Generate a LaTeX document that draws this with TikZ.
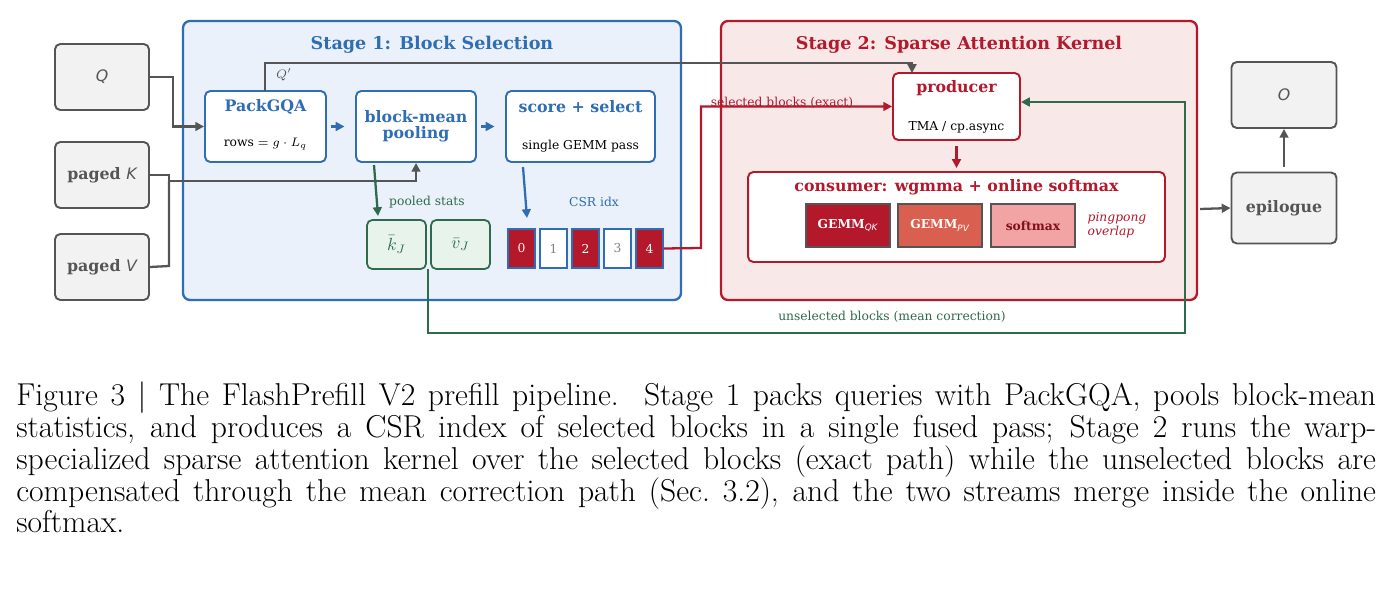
\documentclass[tikz,border=0pt]{standalone}
\usepackage{fontspec}
\usepackage{amsmath}
\usetikzlibrary{arrows.meta}
\newfontfamily\diag{DejaVu Serif}
\newfontfamily\dsans{DejaVu Sans}
\definecolor{sblue}{HTML}{2F6DB5}
\definecolor{sbluebg}{HTML}{EAF1FA}
\definecolor{sred}{HTML}{B3182B}
\definecolor{sredbg}{HTML}{F8E8E8}
\definecolor{sgreen}{HTML}{2E6B4A}
\definecolor{sgreenbg}{HTML}{E8F3EC}
\definecolor{sgray}{HTML}{555555}
\definecolor{sgraybg}{HTML}{F2F2F2}
\definecolor{pvred}{HTML}{D96050}
\definecolor{smred}{HTML}{F2A3A3}
\tikzset{
  iobox/.style={draw=sgray, fill=sgraybg, line width=1.1pt, rounded corners=3pt, text=sgray, font=\diag\bfseries\small},
  stagebox/.style={line width=1.3pt, rounded corners=4pt},
  bluebox/.style={draw=sblue, fill=white, line width=1.1pt, rounded corners=3pt},
  redbox/.style={draw=sred, fill=white, line width=1.1pt, rounded corners=3pt},
  statbox/.style={draw=sgreen, fill=sgreenbg, line width=1pt, rounded corners=3pt, text=sgreen, minimum width=1.18cm, minimum height=0.98cm},
  cell/.style={draw=sblue, line width=0.8pt, minimum width=0.54cm, minimum height=0.78cm, font=\diag\scriptsize},
  gemm/.style={draw=sgray, line width=0.8pt, minimum width=1.68cm, minimum height=0.86cm, font=\diag\bfseries\scriptsize},
  arr/.style={-{Triangle[length=5pt,width=5pt]}, line width=1.3pt},
  lbl/.style={font=\diag\scriptsize},
}
\begin{document}
\begin{tikzpicture}[x=0.02cm, y=-0.02cm]
\useasboundingbox (0,0) rectangle (1392,602);
% stages
\draw[stagebox, draw=sblue, fill=sbluebg] (183,21) rectangle (681,300);
\node[font=\diag\bfseries, text=sblue] (st1) at (432,45) {Stage 1: Block Selection};
\draw[stagebox, draw=sred, fill=sredbg] (721,21) rectangle (1197,300);
\node[font=\diag\bfseries, text=sred] (st2) at (959,45) {Stage 2: Sparse Attention Kernel};

% inputs / outputs
\node[iobox, minimum width=1.88cm, minimum height=1.32cm] (q) at (102,77) {\dsans\mdseries\itshape Q};
\node[iobox, minimum width=1.88cm, minimum height=1.32cm] (pk) at (102,175) {paged {\dsans\mdseries\itshape K}};
\node[iobox, minimum width=1.88cm, minimum height=1.32cm] (pv) at (102,267) {paged {\dsans\mdseries\itshape V}};
\node[iobox, minimum width=2.1cm, minimum height=1.32cm] (o) at (1284,95) {\dsans\mdseries\itshape O};
\node[iobox, minimum width=2.1cm, minimum height=1.42cm] (epi) at (1284,208) {epilogue};

% stage 1
\node[bluebox, minimum width=2.42cm, minimum height=1.42cm] (pack) at (265.5,126.5) {};
\node[font=\diag\bfseries\small, text=sblue] at (265.5,107) {PackGQA};
\node[lbl] at (265.5,144) {rows $=g\cdot L_q$};
\node[bluebox, minimum width=2.4cm, minimum height=1.42cm, align=center, font=\diag\bfseries\small, text=sblue] (pool) at (416,126.5) {block-mean\\[-2pt]pooling};
\node[bluebox, minimum width=2.98cm, minimum height=1.42cm] (score) at (580.5,126.5) {};
\node[font=\diag\bfseries\small, text=sblue] at (580.5,107) {score + select};
\node[lbl] at (580.5,146) {single GEMM pass};

\node[lbl, text=sgreen] (pstat) at (427,202) {pooled stats};
\node[statbox] (kb) at (396.5,244.5) {$\bar{k}_J$};
\node[statbox] (vb) at (460.5,244.5) {$\bar{v}_J$};
\node[lbl, text=sblue] (csr) at (594,202) {CSR idx};
\foreach \i/\x in {0/521.5,1/553.5,2/585.5,3/617.5,4/649.5}{
  \pgfmathparse{mod(\i,2)==0 ? 1 : 0}
  \ifnum\pgfmathresult=1
    \node[cell, fill=sred, text=white] (c\i) at (\x,248.5) {\i};
  \else
    \node[cell, fill=white, text=gray] (c\i) at (\x,248.5) {\i};
  \fi
}

% stage 2
\node[redbox, minimum width=2.54cm, minimum height=1.34cm] (prod) at (956.5,106.5) {};
\node[font=\diag\bfseries\small, text=sred] at (956.5,88) {producer};
\node[lbl] at (956.5,127) {TMA / cp.async};
\node[redbox, minimum width=8.34cm, minimum height=1.8cm] (cons) at (956.5,217) {};
\node[font=\diag\bfseries\small, text=sred] at (956.5,187) {consumer: wgmma + online softmax};
\node[gemm, fill=sred, text=white] (gqk) at (848,225.5) {GEMM\textsubscript{\dsans\itshape\mdseries QK}};
\node[gemm, fill=pvred, text=white] (gpv) at (940,225.5) {GEMM\textsubscript{\dsans\itshape\mdseries PV}};
\node[gemm, fill=smred, text=sred!70!black] (smx) at (1033,225.5) {softmax};
\node[text=sred, align=left, font=\diag\itshape\scriptsize, inner sep=1pt] (pp) at (1117,225) {pingpong\\overlap};

% connectors
\draw[arr, sgray] (q.east) -- (173,77) |- (pack.west);
\draw[arr, sgray] (265,91) -- (265,63) -- (912,63) -- (912,73);
\node[lbl, text=sgray, font=\dsans\itshape\scriptsize] (qp) at (284,75) {$Q'$};
\draw[arr, sblue] (pack.east) ++(4,0) -- ([xshift=-6pt]pool.west);
\draw[arr, sblue] (pool.east) ++(4,0) -- ([xshift=-6pt]score.west);
\draw[line width=1.3pt, sgray] (pk.east) -- (169,175) -- (169,181);
\draw[line width=1.3pt, sgray] (pv.east) -- (169,266) -- (169,181);
\draw[arr, sgray] (169,181) -| (pool.south);
\draw[arr, sgreen] (374,165) -- (378,216);
\draw[arr, sblue] (523,167) -- (527,218);
\draw[arr, sred] (c4.east) -- (701,248) |- (prod.west);
\node[lbl, text=sred] (selb) at (782,103) {selected blocks (exact)};
\draw[arr, sgreen] (428,269) -- (428,333) -| (1185,102) -- (prod.east |- 0,102);
\node[lbl, text=sgreen] (unsel) at (892,317) {unselected blocks (mean correction)};
\draw[arr, sred] (prod.south) ++(0,5) -- (956.5,168);
\draw[arr, sgray] (1200,209) -- (epi.west);
\draw[arr, sgray] (epi.north) ++(0,-5) -- (o.south);

% caption
\node[anchor=north west, text width=27.2cm, align=justify, font=\fontsize{18}{18.2}\selectfont, inner sep=0pt] (cap) at (16,381)
{Figure 3 | The FlashPrefill V2 prefill pipeline.\ \ Stage 1 packs queries with PackGQA, pools block-mean statistics, and produces a CSR index of selected blocks in a single fused pass; Stage 2 runs the warp-specialized sparse attention kernel over the selected blocks (exact path) while the unselected blocks are compensated through the mean correction path (Sec.~3.2), and the two streams merge inside the online softmax.};
\end{tikzpicture}
\end{document}
